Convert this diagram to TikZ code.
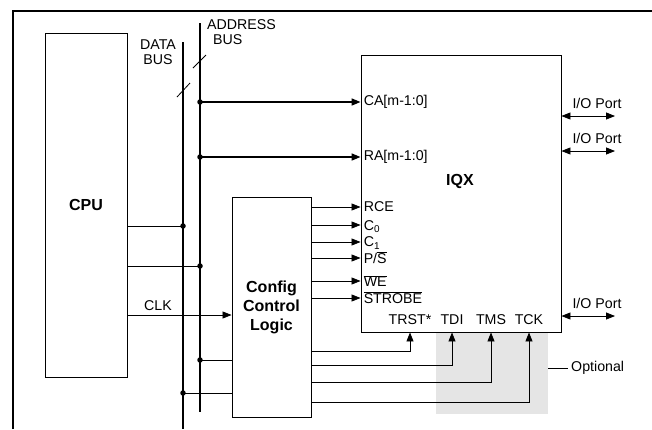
\documentclass[tikz,border=0pt]{standalone}
\usepackage{fontspec}
\setmainfont{Liberation Sans}
\usetikzlibrary{arrows.meta}
\newcommand{\ovl}[1]{$\overline{\mbox{#1}}$}
\newcommand{\pslash}{P/\ovl{S}}
\begin{document}
\begin{tikzpicture}[x=1pt,y=-1pt,
  box/.style={draw, line width=0.9pt, inner sep=0},
  sig/.style={line width=0.8pt},
  bus/.style={line width=1.6pt},
  arr/.style={-{Triangle[length=9pt,width=7pt]}},
  dbl/.style={{Triangle[length=9pt,width=7pt]}-{Triangle[length=9pt,width=7pt]}},
  dot/.style={circle, fill, inner sep=0, minimum size=5.5pt},
  lbl/.style={font=\fontsize{14.2}{15.5}\selectfont, inner sep=0},
  blbl/.style={font=\fontsize{16}{19}\selectfont\bfseries, align=center}]
\useasboundingbox (0,0) rectangle (652,429);
% optional shading
\fill[gray!20] (436,332) rectangle (548,414);
% frame
\draw[line width=2.6pt] (13,429) -- (13,11) -- (652,11);
% blocks
\node[box, blbl, minimum width=82pt, minimum height=344pt] (cpu) at (86,205) {CPU};
\node[box, minimum width=200pt, minimum height=277pt] (iqx) at (461,193.5) {};
\node[blbl, inner sep=0] (iqxl) at (460,181) {IQX};
\node[box, blbl, minimum width=79pt, minimum height=220pt] (ccl) at (271.5,307) {Config\\Control\\Logic};
% buses
\coordinate (dbtop) at (183,42);
\coordinate (dbbot) at (183,429);
\coordinate (abtop) at (200,23);
\coordinate (abbot) at (200,412);
\draw[line width=1.3pt] (dbtop) -- (dbbot);
\draw[bus] (abtop) -- (abbot);
\coordinate (s1a) at (177,97); \coordinate (s1b) at (190,83);
\coordinate (s2a) at (193,68); \coordinate (s2b) at (206,55);
\draw[sig] (s1a) -- (s1b);
\draw[sig] (s2a) -- (s2b);
\node[lbl, align=center] (dbl) at (158,52) {DATA\\BUS};
\node[lbl, align=left, anchor=north west] (abl) at (207,19) {ADDRESS\\\hspace*{6pt}BUS};
% address lines to IQX
\coordinate (ca) at (200,102);
\coordinate (ra) at (200,157);
\node[dot] at (ca) {};
\node[dot] at (ra) {};
\draw[bus, arr] (ca) -- (ca -| iqx.west);
\draw[bus, arr] (ra) -- (ra -| iqx.west);
\node[lbl, anchor=west] at ([xshift=3pt]ca -| iqx.west) {CA[m-1:0]};
\node[lbl, anchor=west] at ([xshift=3pt]ra -| iqx.west) {RA[m-1:0]};
% CPU to buses
\coordinate (d1) at (183,226);
\coordinate (a2) at (200,266);
\node[dot] at (d1) {};
\node[dot] at (a2) {};
\draw[sig] (d1 -| cpu.east) -- (d1);
\draw[sig] (a2 -| cpu.east) -- (a2);
% CLK
\coordinate (clk) at (0,315);
\draw[sig, arr] (clk -| cpu.east) -- (clk -| ccl.west);
\node[lbl] (clkl) at (158,306) {CLK};
% Config to buses
\coordinate (a3) at (200,360);
\coordinate (d3) at (183,393);
\node[dot] at (a3) {};
\node[dot] at (d3) {};
\draw[sig] (a3) -- (a3 -| ccl.west);
\draw[sig] (d3) -- (d3 -| ccl.west);
% Config outputs to IQX
\foreach \y/\t/\dy in {207/RCE/0, 225/C\textsubscript{0}/2, 242/C\textsubscript{1}/1, 258/\pslash/0, 281/\ovl{WE}/0, 298/\ovl{STROBE}/0}{
  \coordinate (s) at (0,\y);
  \draw[sig, arr] (s -| ccl.east) -- (s -| iqx.west);
  \node[lbl, anchor=west] at ([xshift=3pt, yshift=-\dy pt]s -| iqx.west) {\t};
}
% JTAG
\foreach \x/\y/\t in {410/351/TRST*, 452/365/TDI, 491/382/TMS, 529/402/TCK}{
  \coordinate (b) at (\x,\y);
  \draw[sig, arr] (b -| ccl.east) -- (b) -- (b |- iqx.south);
  \node[lbl] at (\x,320) {\t};
}
% I/O ports
\foreach \y in {116,151,316}{
  \coordinate (p) at (615,\y);
  \draw[sig, dbl] (p -| iqx.east) -- (p);
  \node[lbl] at (597,\y-13) {I/O Port};
}
% Optional
\coordinate (o1) at (548,368);
\coordinate (o2) at (568,368);
\draw[sig] (o1) -- (o2);
\node[lbl, anchor=west] (optl) at (571,368) {Optional};
\end{tikzpicture}
\end{document}
